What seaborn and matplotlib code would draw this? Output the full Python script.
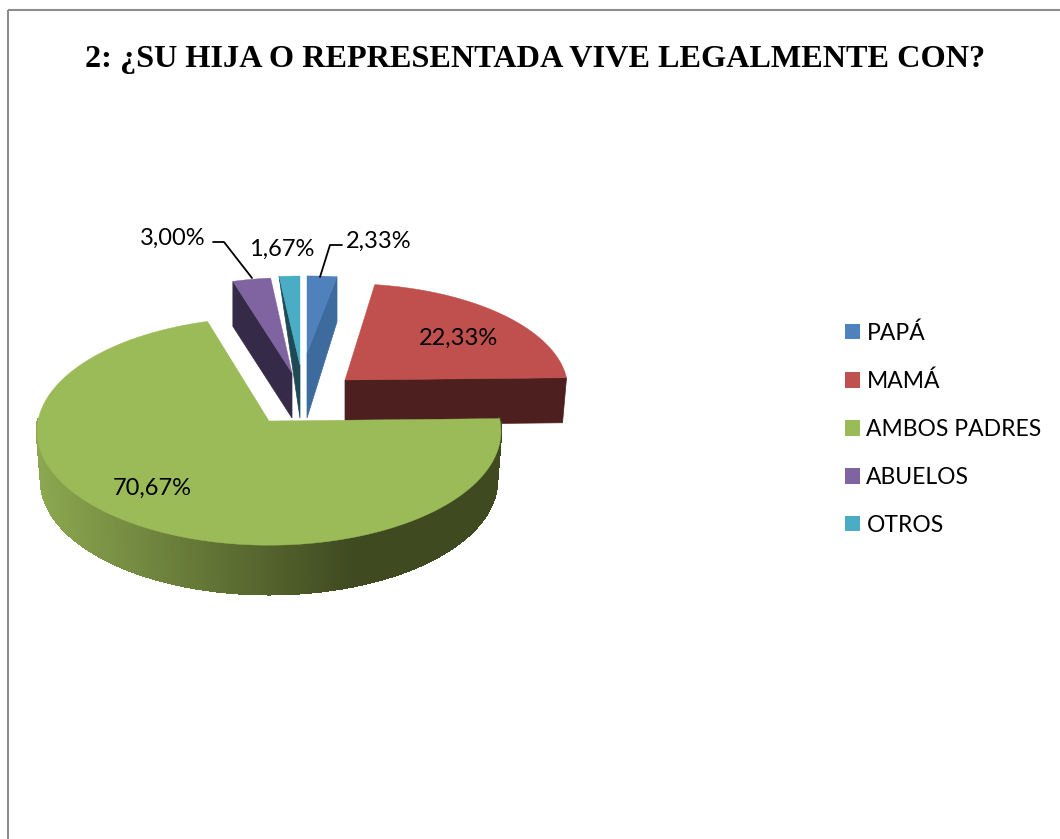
import numpy as np
import matplotlib
matplotlib.use("Agg")
import matplotlib.pyplot as plt
from matplotlib.collections import PolyCollection
from matplotlib.colors import to_rgb
from matplotlib.patches import Patch, Rectangle
import seaborn as sns

# ---- data ----
categories = ["PAPÁ", "MAMÁ", "AMBOS PADRES", "ABUELOS", "OTROS"]
values = [2.33, 22.33, 70.67, 3.00, 1.67]
title = "2: ¿SU HIJA O REPRESENTADA VIVE LEGALMENTE CON?"

# ---- style ----
sns.set_theme(style="white")
plt.rcParams["font.family"] = ["Lato", "DejaVu Sans"]
palette = sns.color_palette(["#4F81BD", "#C0504D", "#9BBB59", "#8064A2", "#4BACC6"])
wall_colors = ["#3D6B9E", "#4D1F1F", "#3F4A20", "#352A47", "#1F4A55"]
LABEL_SIZE = 17.0
LEGEND_SIZE = 16.5
PERSPECTIVE = 0.09

# per-slice layout of the exploded pie in pixels:
# top-face centre x, y, radii a, b; base centre y, base radii a, b; which radial side wall shows
layout = [
    dict(cx=307, cy=353, a=224, b=84, by=418, ba=224, bb=106, side=1),
    dict(cx=345, cy=380, a=222, b=105, by=425, ba=218, bb=105, side=1),
    dict(cx=269, cy=421, a=231, b=113, by=470, ba=227, bb=113, side=None),
    dict(cx=292, cy=373, a=222, b=104, by=418, ba=222, bb=104, side=0),
    dict(cx=300, cy=365, a=218, b=97, by=418, ba=218, bb=155, side=0),
]
label_pos = [(379, 241), (459, 338), (152, 488), (173, 238), (282, 249)]
leaders = [[(320, 277), (330, 245), (342, 245)], None, None,
           [(213, 242), (224, 242), (252, 278)], None]


def project(theta, cx, cy, a, b):
    u, v = np.sin(theta), np.cos(theta)
    w = 1 + PERSPECTIVE * v
    return cx + a * u / w, cy - b * v / w


fig = plt.figure(figsize=(10.6, 8.39), dpi=100)
ax = fig.add_axes([0, 0, 1, 1])
ax.set_xlim(0, 1060)
ax.set_ylim(839, 0)
ax.axis("off")

# outer chart frame (runs off right and bottom of the picture)
ax.add_patch(Rectangle((8, 10), 1200, 1000, fill=False, ec="#8C8C8C", lw=1.5))

# slice angles come from the values, clockwise from the top
edges = np.deg2rad(np.concatenate([[0], np.cumsum(values)]) * 3.6)
spans = list(zip(edges[:-1], edges[1:]))

for i in [1, 0, 3, 4, 2]:
    g = layout[i]
    t0, t1 = spans[i]
    th = np.linspace(t0, t1, 361)
    x, y = project(th, g["cx"], g["cy"], g["a"], g["b"])
    bx, by = project(th, g["cx"], g["by"], g["ba"], g["bb"])

    if g["side"] is not None:
        e = -1 if g["side"] == 1 else 0
        ax.fill([g["cx"], x[e], bx[e], g["cx"]],
                [g["cy"], y[e], by[e], g["by"]],
                color=wall_colors[i], lw=0.5, zorder=2 + i * 0.01)
    else:
        # rounded rim with a horizontal light-to-dark gradient on the front
        keep = np.cos(th) < 0.03
        xs, ys, bxs, bys = x[keep], y[keep], bx[keep], by[keep]
        light, dark = np.array(to_rgb("#8CA850")), np.array(to_rgb(wall_colors[i]))
        polys, cols = [], []
        for j in range(len(xs) - 1):
            polys.append([(xs[j], ys[j]), (xs[j + 1], ys[j + 1]),
                          (bxs[j + 1], bys[j + 1]), (bxs[j], bys[j])])
            f = np.clip(((xs[j] + bxs[j]) / 2 - 37) / (353 - 37), 0, 1)
            cols.append(light * (1 - f) + dark * f)
        ax.add_collection(PolyCollection(polys, facecolors=cols, edgecolors=cols,
                                         linewidths=1.2, zorder=3, antialiased=False))

    ax.fill(np.r_[g["cx"], x], np.r_[g["cy"], y], color=palette[i], lw=0.3,
            zorder=4 if i == 2 else 2.5)

# data labels and leader lines
for i, v in enumerate(values):
    ax.text(*label_pos[i], f"{v:.2f}%".replace(".", ","), fontsize=LABEL_SIZE,
            color="black", ha="center", va="center", zorder=6)
    if leaders[i]:
        lx, ly = zip(*leaders[i])
        ax.plot(lx, ly, color="black", lw=1.3, zorder=5)

# title
ax.text(535.5, 60, title, family="Liberation Serif", weight="bold", fontsize=23.25,
        color="black", ha="center", va="center")

# legend
sq = 10.8
handles = [Patch(facecolor=c, edgecolor="none", label=n) for c, n in zip(palette, categories)]
ax.legend(handles=handles, loc="center left", bbox_to_anchor=(845, 429),
          bbox_transform=ax.transData, frameon=False, fontsize=LEGEND_SIZE, labelcolor="black",
          handlelength=sq / LEGEND_SIZE, handleheight=sq / LEGEND_SIZE,
          handletextpad=0.28, labelspacing=1.175, borderpad=0, borderaxespad=0)

fig.savefig("out.png", dpi=100)
